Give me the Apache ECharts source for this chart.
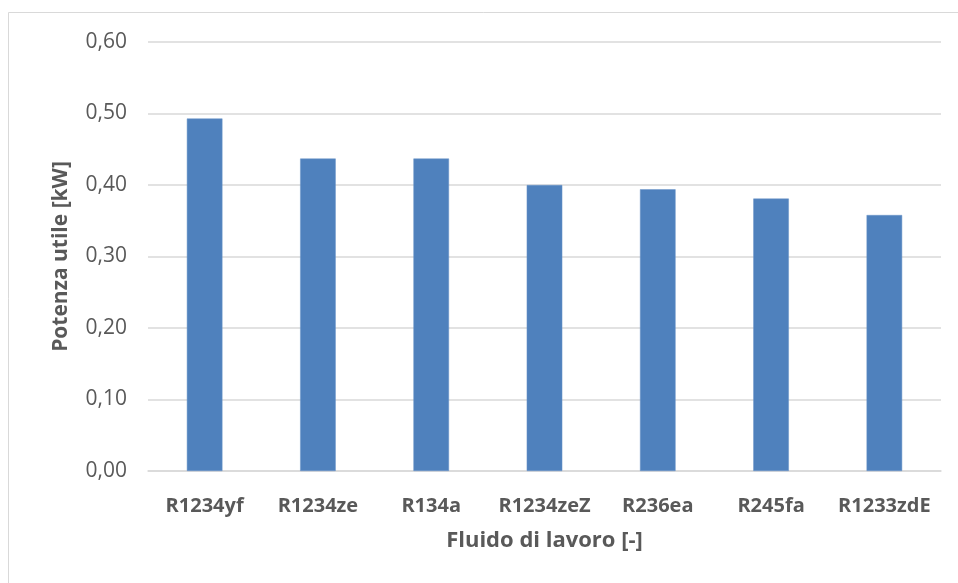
<!DOCTYPE html>
<html>
<head>
<meta charset="utf-8">
<script src="https://cdn.jsdelivr.net/npm/echarts@6/dist/echarts.min.js"></script>
<style>
html,body{margin:0;padding:0;background:#fff;}
#c{width:958px;height:583px;}
</style>
</head>
<body>
<div id="c"></div>
<script>
const categories = ['R1234yf', 'R1234ze', 'R134a', 'R1234zeZ', 'R236ea', 'R245fa', 'R1233zdE'];
const values = [0.493, 0.437, 0.437, 0.400, 0.394, 0.381, 0.358];
const yTicks = [0, 0.1, 0.2, 0.3, 0.4, 0.5, 0.6];
const xTitle = 'Fluido di lavoro [-]';
const yTitle = 'Potenza utile [kW]';

const font = '"Open Sans", "Noto Sans", sans-serif';
const chart = echarts.init(document.getElementById('c'), null, {renderer: 'canvas'});
chart.setOption({
  animation: false,
  backgroundColor: '#fff',
  graphic: [{
    type: 'rect', silent: true,
    shape: {x: 8.5, y: 12.5, width: 1000, height: 1000},
    style: {fill: 'none', stroke: '#d9d9d9', lineWidth: 1}
  }],
  grid: {left: 148, right: 17, top: 42, bottom: 112, containLabel: false},
  xAxis: {
    type: 'category',
    data: categories,
    name: xTitle,
    nameLocation: 'middle',
    nameGap: 59,
    nameTextStyle: {color: '#595959', fontSize: 22, fontWeight: 'bold', fontFamily: font},
    axisLine: {show: true, lineStyle: {color: '#d9d9d9', width: 1.5}},
    axisTick: {show: false},
    axisLabel: {color: '#595959', fontSize: 20, fontWeight: 'bold', fontFamily: font, margin: 25, interval: 0}
  },
  yAxis: {
    type: 'value',
    min: yTicks[0],
    max: yTicks[yTicks.length - 1],
    interval: 0.1,
    name: yTitle,
    nameLocation: 'middle',
    nameGap: 76,
    nameTextStyle: {color: '#595959', fontSize: 21, fontWeight: 'bold', fontFamily: font},
    axisLine: {show: false},
    axisTick: {show: false},
    splitLine: {lineStyle: {color: '#d9d9d9', width: 1.5}},
    axisLabel: {
      color: '#595959', fontSize: 21, fontFamily: font, margin: 21,
      formatter: v => v.toFixed(2).replace('.', ',')
    }
  },
  series: [{
    type: 'bar',
    data: values,
    barWidth: '31.4%',
    itemStyle: {color: '#4F81BD', borderColor: '#6a95c8', borderWidth: 0.5}
  }]
});
</script>
</body>
</html>
